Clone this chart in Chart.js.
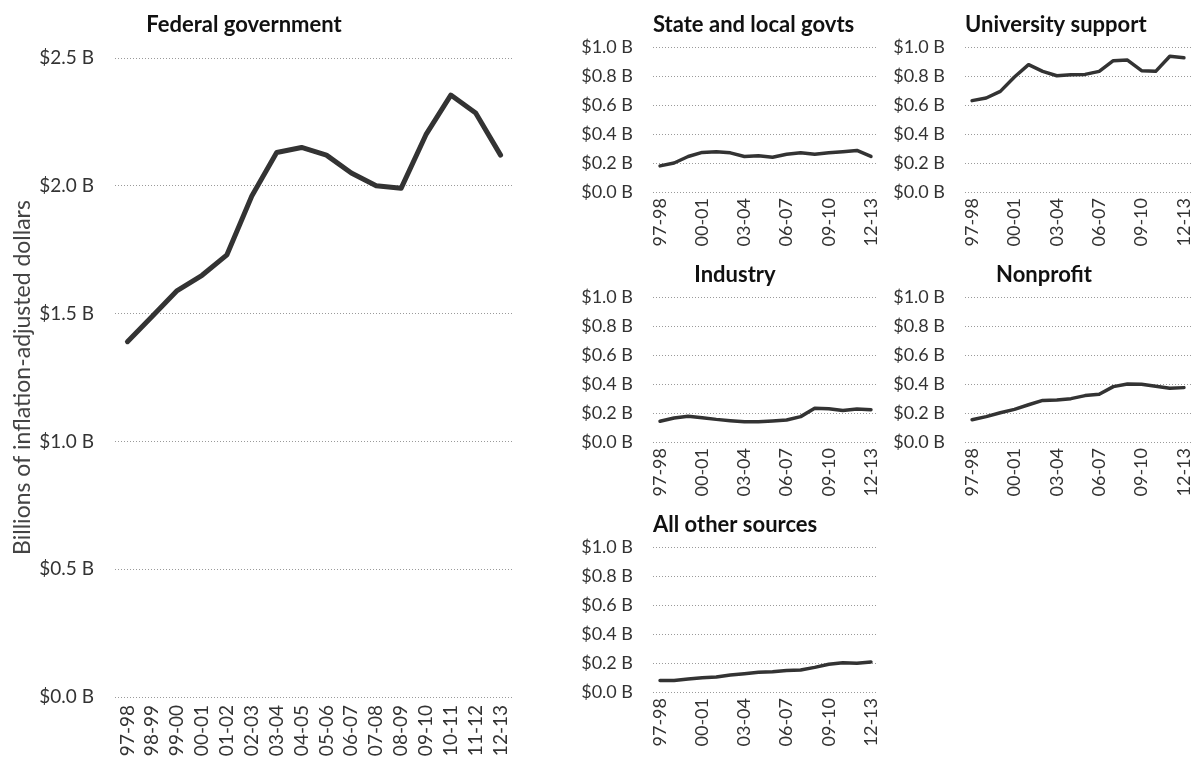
<!DOCTYPE html>
<html>
<head>
<meta charset="utf-8">
<title>Research funding by source</title>
<script src="https://cdn.jsdelivr.net/npm/chart.js@4"></script>
<style>
  body { margin: 0; background: #fff; }
  #wrap { position: relative; width: 1192px; height: 763px; overflow: hidden; }
  canvas { position: absolute; }
</style>
</head>
<body>
<div id="wrap">
  <canvas id="federal" width="530" height="763" style="left:0;top:0"></canvas>
  <canvas id="stateLocal" width="325" height="250" style="left:560px;top:0"></canvas>
  <canvas id="university" width="312" height="250" style="left:880px;top:0"></canvas>
  <canvas id="industry" width="325" height="250" style="left:560px;top:250px"></canvas>
  <canvas id="nonprofit" width="312" height="250" style="left:880px;top:250px"></canvas>
  <canvas id="other" width="325" height="250" style="left:560px;top:500px"></canvas>
</div>
<script>
// fiscal years
const seasons = ["97-98", "98-99", "99-00", "00-01", "01-02", "02-03", "03-04", "04-05",
  "05-06", "06-07", "07-08", "08-09", "09-10", "10-11", "11-12", "12-13"];

// billions of inflation-adjusted dollars
const federal = [1.39, 1.49, 1.59, 1.65, 1.73, 1.96, 2.13, 2.15, 2.12, 2.05, 2.0, 1.99, 2.2, 2.355, 2.285, 2.12];
const stateLocal = [0.18, 0.2, 0.245, 0.273, 0.278, 0.27, 0.245, 0.25, 0.24, 0.26, 0.27, 0.26, 0.27, 0.278, 0.287, 0.245];
const university = [0.63, 0.648, 0.694, 0.793, 0.878, 0.832, 0.802, 0.809, 0.811, 0.832, 0.906, 0.91, 0.837, 0.832, 0.936, 0.926];
const industry = [0.143, 0.166, 0.177, 0.168, 0.156, 0.147, 0.14, 0.14, 0.145, 0.152, 0.175, 0.232, 0.23, 0.218, 0.228, 0.223];
const nonprofit = [0.154, 0.175, 0.202, 0.225, 0.257, 0.287, 0.29, 0.299, 0.32, 0.329, 0.382, 0.4, 0.398, 0.384, 0.37, 0.375];
const otherSources = [0.08, 0.08, 0.09, 0.099, 0.103, 0.117, 0.126, 0.136, 0.14, 0.149, 0.152, 0.17, 0.191, 0.202, 0.198, 0.207];

const bigTicks = [0, 0.5, 1.0, 1.5, 2.0, 2.5];
const smallTicks = [0, 0.2, 0.4, 0.6, 0.8, 1.0];

const FONT = "Lato";

// panel heading, centred but never left of the plot
const panelTitle = {
  id: "panelTitle",
  afterDraw(chart, args, o) {
    const ctx = chart.ctx;
    ctx.save();
    ctx.font = "bold 22px " + FONT;
    const w = ctx.measureText(o.text).width;
    const x = Math.max(chart.chartArea.left, o.center - w / 2);
    ctx.fillStyle = "#111";
    ctx.textAlign = "left";
    ctx.textBaseline = "middle";
    ctx.fillText(o.text, x, o.y);
    ctx.restore();
  }
};

function makeChart(id, title, values, cfg) {
  const ticks = cfg.big ? bigTicks : smallTicks;
  const tickFont = { family: FONT, size: cfg.big ? 19 : 18 };
  return new Chart(document.getElementById(id), {
    type: "line",
    data: {
      labels: seasons,
      datasets: [{
        data: values,
        borderColor: "#333",
        borderWidth: cfg.big ? 5 : 3.5,
        pointRadius: 0,
        tension: 0,
        borderCapStyle: "round",
        borderJoinStyle: "round"
      }]
    },
    options: {
      responsive: false,
      animation: false,
      events: [],
      layout: { padding: { top: cfg.top, right: cfg.right, left: 0, bottom: 0 } },
      plugins: {
        legend: { display: false },
        tooltip: { enabled: false },
        panelTitle: { text: title, center: cfg.titleCenter, y: 25 }
      },
      scales: {
        x: {
          offset: true,
          grid: { display: false, drawTicks: false },
          border: { display: false },
          ticks: {
            autoSkip: false,
            maxRotation: 90,
            minRotation: 90,
            padding: cfg.big ? 8 : 6,
            color: "#333",
            font: tickFont,
            callback(v, i) {
              return (cfg.big || i % 3 === 0) ? this.getLabelForValue(v) : "";
            }
          },
          afterFit(s) {
            s.height = cfg.xHeight;
            s.paddingLeft = 0;
            s.paddingRight = 0;
          }
        },
        y: {
          min: 0,
          max: ticks[ticks.length - 1],
          grid: { color: "#9a9a9a", lineWidth: 1, drawTicks: false },
          border: { display: false, dash: [1, 2] },
          ticks: {
            padding: cfg.big ? 21 : 20,
            color: "#333",
            font: tickFont,
            callback: v => "$" + v.toFixed(1) + " B"
          },
          afterBuildTicks(s) { s.ticks = ticks.map(v => ({ value: v })); },
          afterFit(s) {
            s.width = cfg.yWidth;
            s.paddingTop = 0;
            s.paddingBottom = 0;
          },
          title: cfg.big ? {
            display: true,
            text: "Billions of inflation-adjusted dollars",
            color: "#444",
            font: { family: FONT, size: 23 },
            padding: { top: 9, bottom: 0 }
          } : { display: false }
        }
      }
    },
    plugins: [panelTitle]
  });
}

makeChart("federal", "Federal government", federal,
  { big: true, top: 58, right: 17, yWidth: 115, xHeight: 66, titleCenter: 244 });
makeChart("stateLocal", "State and local govts", stateLocal,
  { big: false, top: 47, right: 7, yWidth: 93, xHeight: 58, titleCenter: 175 });
makeChart("university", "University support", university,
  { big: false, top: 47, right: 1, yWidth: 85, xHeight: 58, titleCenter: 164 });
makeChart("industry", "Industry", industry,
  { big: false, top: 47, right: 7, yWidth: 93, xHeight: 58, titleCenter: 175 });
makeChart("nonprofit", "Nonprofit", nonprofit,
  { big: false, top: 47, right: 1, yWidth: 85, xHeight: 58, titleCenter: 164 });
makeChart("other", "All other sources", otherSources,
  { big: false, top: 47, right: 7, yWidth: 93, xHeight: 58, titleCenter: 175 });
</script>
</body>
</html>
